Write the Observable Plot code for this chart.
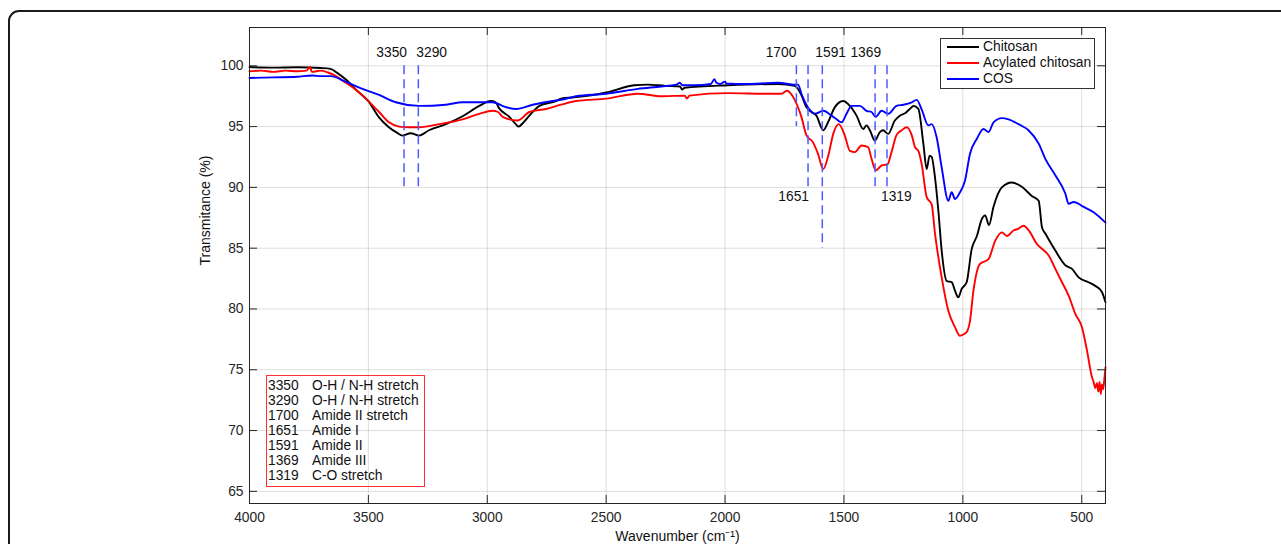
<!DOCTYPE html>
<html>
<head>
<meta charset="utf-8">
<script src="https://cdn.jsdelivr.net/npm/d3@7"></script>
<script src="https://cdn.jsdelivr.net/npm/@observablehq/plot@0.6"></script>
<style>
  html, body { margin: 0; padding: 0; background: #fff; }
  body { width: 1281px; height: 544px; overflow: hidden; position: relative; font-family: "Liberation Sans", Arial, Helvetica, sans-serif; }
  #outer { position: absolute; left: 8px; top: 10px; width: 1400px; height: 700px; border: 2px solid #1b1b1b; border-radius: 11px; box-sizing: border-box; }
  #chart { position: absolute; left: 0; top: 0; }
  #legend { position: absolute; left: 940px; top: 37.5px; width: 155px; height: 51px; box-sizing: border-box; border: 1px solid #333; background: #fff; font-size: 13.8px; color: #111; }
  #legend .row { height: 16px; display: flex; align-items: center; }
  #legend .sw { display: inline-block; width: 32px; height: 2px; margin-left: 6px; }
  #legend .lb { margin-left: 4px; white-space: nowrap; }
  #notes { position: absolute; left: 266px; top: 375px; width: 158.5px; height: 112px; box-sizing: border-box; border: 1.5px solid #ff3030; padding-top: 2px; font-size: 13.8px; color: #111; }
  #notes .row { height: 15px; line-height: 15px; display: flex; white-space: nowrap; }
  #notes .n { width: 44px; padding-left: 1px; }
</style>
</head>
<body>
<div id="outer"></div>
<div id="chart"></div>
<div id="legend"></div>
<div id="notes"></div>
<script>
// ---------- data ----------
const xTicks = [4000, 3500, 3000, 2500, 2000, 1500, 1000, 500];
const yTicks = [65, 70, 75, 80, 85, 90, 95, 100];
const seriesNames = ["Chitosan", "Acylated chitosan", "COS"];
const seriesColors = ["#000000", "#ff0000", "#0000ff"];

const chitosan = [
  [4000,99.9],[3900,99.85],[3800,99.88],[3700,99.82],[3659,99.75],[3630,99.4],[3596,98.9],[3550,98.0],
  [3500,97.1],[3457,95.8],[3414,94.95],[3380,94.5],[3357,94.26],[3322,94.45],[3287,94.26],[3245,94.7],
  [3174,95.2],[3104,95.85],[3034,96.7],[2985,97.1],[2965,97.0],[2950,96.5],[2907,95.8],[2880,95.2],
  [2868,95.0],[2850,95.3],[2823,95.9],[2781,96.7],[2711,97.1],[2690,97.3],[2634,97.4],[2500,97.8],
  [2382,98.4],[2325,98.45],[2250,98.35],[2190,98.3],[2180,98.05],[2170,98.2],[1988,98.4],[1777,98.5],
  [1707,98.35],[1679,97.6],[1658,96.6],[1637,96.2],[1616,95.9],[1587,94.7],[1566,95.4],[1538,96.6],
  [1503,97.1],[1475,96.7],[1447,95.9],[1419,94.8],[1405,95.1],[1391,94.7],[1370,93.85],[1349,94.55],
  [1335,94.7],[1314,94.4],[1286,95.5],[1265,95.9],[1243,96.1],[1215,96.6],[1208,96.7],[1187,96.45],
  [1166,93.6],[1152,91.5],[1140,92.6],[1131,92.5],[1117,90.8],[1103,88.1],[1089,84.8],[1068,82.3],
  [1047,82.2],[1033,81.5],[1019,80.95],[1005,81.65],[984,82.2],[963,84.9],[941,86.0],[920,87.4],
  [906,87.7],[890,86.9],[871,88.4],[836,90.0],[794,90.4],[752,90.05],[710,89.3],[681,88.9],
  [667,86.7],[653,86.2],[611,84.8],[569,83.6],[541,83.3],[513,82.6],[471,82.2],[443,81.9],
  [415,81.4],[400,80.55]
];

const acylated = [
  [4000,99.55],[3950,99.6],[3900,99.5],[3850,99.6],[3800,99.55],[3760,99.6],[3745,99.9],[3738,99.5],
  [3700,99.6],[3670,99.45],[3640,99.2],[3610,98.8],[3568,98.25],[3511,97.3],[3455,96.2],[3413,95.35],
  [3371,95.0],[3330,94.95],[3287,94.95],[3202,95.2],[3104,95.6],[3034,96.05],[2978,96.3],[2955,96.2],
  [2935,95.8],[2872,95.5],[2823,96.2],[2753,96.45],[2690,96.8],[2627,97.1],[2500,97.3],[2367,97.7],
  [2268,97.5],[2170,97.55],[2160,97.3],[2150,97.55],[1988,97.75],[1819,97.7],[1763,97.7],[1740,97.95],
  [1707,97.2],[1679,95.8],[1658,94.3],[1630,93.7],[1609,92.75],[1587,91.5],[1566,92.6],[1545,94.4],
  [1522,95.2],[1497,94.3],[1475,93.0],[1454,92.9],[1426,93.45],[1398,93.3],[1384,92.35],[1366,91.4],
  [1342,91.8],[1317,91.9],[1300,92.9],[1279,94.3],[1257,94.7],[1236,94.95],[1215,94.3],[1201,93.3],
  [1187,93.0],[1173,91.9],[1152,89.2],[1131,88.6],[1117,86.2],[1089,82.6],[1061,79.85],[1033,78.5],
  [1012,77.8],[998,77.9],[984,78.1],[970,79.0],[956,81.4],[928,83.7],[892,84.1],[864,85.6],
  [836,86.3],[815,86.0],[787,86.45],[766,86.6],[745,86.85],[717,86.3],[689,85.35],[667,84.95],
  [639,84.4],[611,83.3],[583,82.2],[555,81.1],[527,79.6],[499,78.5],[478,76.6],[457,74.4],
  [450,74.0],[443,73.5],[436,73.9],[430,73.2],[425,74.0],[420,73.0],[415,73.8],[410,73.4],
  [405,74.2],[400,75.2]
];

const cos = [
  [4000,99.0],[3900,99.05],[3800,99.1],[3736,99.2],[3700,99.15],[3659,99.15],[3596,98.7],[3525,98.1],
  [3455,97.6],[3385,97.0],[3287,96.7],[3174,96.8],[3104,97.0],[2978,97.0],[2922,96.6],[2879,96.45],
  [2809,96.8],[2711,97.15],[2690,97.2],[2627,97.5],[2500,97.7],[2367,98.1],[2268,98.3],[2205,98.45],
  [2190,98.6],[2180,98.4],[2128,98.4],[2060,98.5],[2045,98.9],[2036,98.6],[2020,98.5],[2000,98.7],
  [1995,98.55],[1918,98.5],[1777,98.6],[1707,98.45],[1693,98.45],[1679,97.7],[1658,96.8],[1640,96.3],
  [1623,96.05],[1587,96.3],[1552,95.9],[1531,95.6],[1510,95.35],[1489,96.05],[1468,96.7],[1433,96.7],
  [1405,96.3],[1384,96.2],[1366,95.8],[1342,96.3],[1314,96.05],[1279,96.7],[1250,96.8],[1215,97.0],
  [1194,97.2],[1173,96.4],[1145,95.1],[1131,95.2],[1110,94.1],[1089,91.65],[1061,88.9],[1047,89.6],
  [1033,89.05],[1012,89.6],[991,90.55],[970,92.75],[941,94.0],[913,94.8],[892,94.55],[871,95.35],
  [836,95.7],[808,95.6],[766,95.2],[724,94.7],[681,93.6],[653,92.35],[611,91.0],[569,89.5],
  [555,88.65],[534,88.8],[492,88.4],[450,87.95],[400,87.1]
];

const peakWn = [3350, 3290, 1700, 1651, 1591, 1369, 1319];
const peakTop = [100, 100, 100, 100, 100, 100, 100];
const peakBottom = [90, 90, 95, 90, 85, 90, 90];
const peakAssign = ["O-H / N-H stretch", "O-H / N-H stretch", "Amide II stretch", "Amide I", "Amide II", "Amide III", "C-O stretch"];

// ---------- layout (presentation only) ----------
const W = 1281, H = 544;
const M = {left: 249, right: 176, top: 27, bottom: 41};
const xDomain = [4000, 400];
const yDomain = [64, 103.15];
const labelLayout = {
  3350: {side: "top", anchor: "end", dx: 3},
  3290: {side: "top", anchor: "start", dx: -2},
  1700: {side: "top", anchor: "end", dx: 0},
  1591: {side: "top", anchor: "start", dx: -7},
  1369: {side: "top", anchor: "end", dx: 6},
  1651: {side: "bottom", anchor: "end", dx: 1},
  1319: {side: "bottom", anchor: "start", dx: -6}
};

const seriesData = [chitosan, acylated, cos];
const rows = seriesData.flatMap((arr, i) =>
  arr.map(([wn, t]) => ({wn, t, series: seriesNames[i]})).sort((a, b) => a.wn - b.wn));
const peaks = peakWn.map((wn, i) => ({wn, top: peakTop[i], bottom: peakBottom[i], assign: peakAssign[i]}));

const axisColor = "#262626";
const tickLen = 8;
// tick length expressed in data units of each scale
const plotW = W - M.left - M.right, plotH = H - M.top - M.bottom;
const tyLen = tickLen * (yDomain[1] - yDomain[0]) / plotH;
const txLen = tickLen * (xDomain[0] - xDomain[1]) / plotW;

const peakLabelMarks = peaks.map(p => {
  const L = labelLayout[p.wn];
  return Plot.text([p], {
    x: "wn",
    y: L.side === "top" ? "top" : "bottom",
    text: d => String(d.wn),
    textAnchor: L.anchor,
    dx: L.dx,
    dy: L.side === "top" ? -13 : 9,
    fill: "#111"
  });
});

const fmt = d => String(d);

const chart = Plot.plot({
  width: W,
  height: H,
  marginLeft: M.left,
  marginRight: M.right,
  marginTop: M.top,
  marginBottom: M.bottom,
  style: {fontFamily: '"Liberation Sans", Arial, Helvetica, sans-serif', fontSize: "13.8px", color: axisColor, background: "transparent"},
  x: {domain: xDomain},
  y: {domain: yDomain},
  color: {domain: seriesNames, range: seriesColors},
  marks: [
    Plot.gridX(xTicks, {stroke: "#000", strokeOpacity: 0.13}),
    Plot.gridY(yTicks, {stroke: "#000", strokeOpacity: 0.13}),
    Plot.line(rows, {x: "wn", y: "t", z: "series", stroke: "series", strokeWidth: 1.9, curve: "monotone-x"}),
    Plot.ruleX(peaks, {x: "wn", y1: "top", y2: "bottom", stroke: "#4a5cff", strokeWidth: 1.5, strokeDasharray: "9,5"}),
    ...peakLabelMarks,
    // tick labels
    Plot.axisX(xTicks, {anchor: "bottom", tickSize: 0, tickPadding: 9, label: null, tickFormat: fmt, fill: axisColor}),
    Plot.axisY(yTicks, {anchor: "left", tickSize: 0, tickPadding: 6, label: null, tickFormat: fmt, fill: axisColor}),
    // inward ticks on all four sides
    Plot.ruleX(xTicks, {x: d => d, y1: yDomain[0], y2: yDomain[0] + tyLen, stroke: axisColor}),
    Plot.ruleX(xTicks, {x: d => d, y1: yDomain[1], y2: yDomain[1] - tyLen, stroke: axisColor}),
    Plot.ruleY(yTicks, {y: d => d, x1: xDomain[0], x2: xDomain[0] - txLen, stroke: axisColor}),
    Plot.ruleY(yTicks, {y: d => d, x1: xDomain[1], x2: xDomain[1] + txLen, stroke: axisColor}),
    Plot.frame({stroke: axisColor, strokeWidth: 1}),
    // axis titles
    Plot.text(["Transmitance (%)"], {frameAnchor: "left", dx: -44, rotate: -90, fill: "#111", fontSize: 14}),
    Plot.text(["Wavenumber (cm\u207B\u00B9)"], {frameAnchor: "bottom", dy: 37, fill: "#111", fontSize: 14})
  ]
});
document.getElementById("chart").appendChild(chart);

// legend
const legend = d3.select("#legend");
seriesNames.forEach((name, i) => {
  const r = legend.append("div").attr("class", "row");
  r.append("span").attr("class", "sw").style("background", seriesColors[i]);
  r.append("span").attr("class", "lb").text(name);
});

// peak assignment box
const notes = d3.select("#notes");
peaks.forEach(p => {
  const r = notes.append("div").attr("class", "row");
  r.append("span").attr("class", "n").text(p.wn);
  r.append("span").text(p.assign);
});
</script>
</body>
</html>
